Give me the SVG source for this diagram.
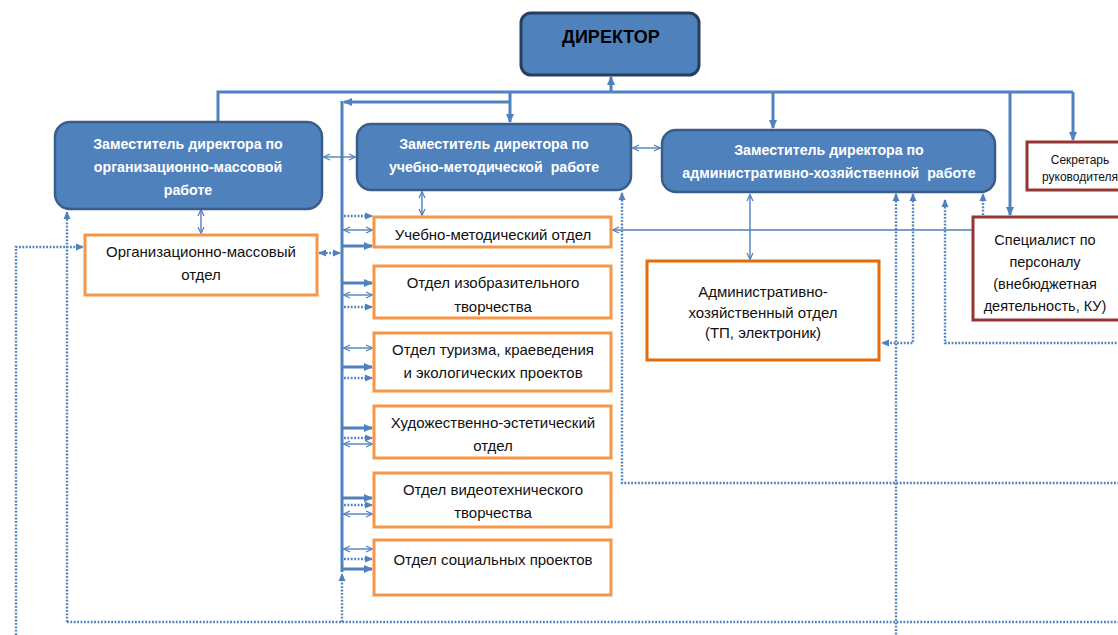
<svg xmlns="http://www.w3.org/2000/svg" width="1118" height="635" viewBox="0 0 1118 635">
<defs>
<style>
.dep{fill:#4f81bd;stroke:#385d8a;stroke-width:2.5}
.dir{fill:#4f81bd;stroke:#243f60;stroke-width:3}
.dept{fill:#fff;stroke:#f79646;stroke-width:3}
.dept2{fill:#fff;stroke:#e46c0a;stroke-width:3}
.red{fill:#fff;stroke:#943634;stroke-width:3}
.tw{font-family:"Liberation Sans",Arial,sans-serif;font-weight:bold;font-size:14.2px;fill:#fff;text-anchor:middle}
.tb{font-family:"Liberation Sans",Arial,sans-serif;font-size:15px;fill:#111;text-anchor:middle}
.ts{font-family:"Liberation Sans",Arial,sans-serif;font-size:14.5px;fill:#111;text-anchor:middle}
.tsec{font-family:"Liberation Sans",Arial,sans-serif;font-size:12px;fill:#111;text-anchor:middle}
.thick{fill:none;stroke:#4f81bd;stroke-width:3}
.thin{fill:none;stroke:#4f81bd;stroke-width:1.4}
.dot{fill:none;stroke:#4f81bd;stroke-width:2.4;stroke-dasharray:1.8 1.6}
</style>
<marker id="mT" markerUnits="userSpaceOnUse" markerWidth="10" markerHeight="10" refX="8" refY="5" orient="auto-start-reverse"><path d="M0,1 L9,5 L0,9 Z" fill="#4f81bd"/></marker>
<marker id="mS" markerUnits="userSpaceOnUse" markerWidth="9" markerHeight="9" refX="7" refY="4.5" orient="auto-start-reverse"><path d="M1,1.5 L7.5,4.5 L1,7.5" fill="none" stroke="#4f81bd" stroke-width="1.2"/></marker>
<marker id="mD" markerUnits="userSpaceOnUse" markerWidth="9" markerHeight="9" refX="7" refY="4.5" orient="auto-start-reverse"><path d="M0,1 L8,4.5 L0,8 Z" fill="#4f81bd"/></marker>
</defs>

<g id="connectors">
<path class="thick" d="M218,122 V92 H1073"/>
<path class="thick" d="M611,92 V77" marker-end="url(#mT)"/>
<path class="thick" d="M510,92 V122" marker-end="url(#mT)"/>
<path class="thick" d="M510,102 H344" marker-end="url(#mT)"/>
<path class="thick" d="M342,101 V572"/>
<path class="thick" d="M773,92 V128" marker-end="url(#mT)"/>
<path class="thick" d="M1010,92 V215" marker-end="url(#mT)"/>
<path class="thick" d="M1073,92 V140" marker-end="url(#mT)"/>
<path class="thin" d="M324,157 H355" marker-start="url(#mS)" marker-end="url(#mS)"/>
<path class="thin" d="M633,148 H660" marker-start="url(#mS)" marker-end="url(#mS)"/>
<path class="thin" d="M201,210 V233" marker-start="url(#mS)" marker-end="url(#mS)"/>
<path class="thin" d="M422,192 V215" marker-start="url(#mS)" marker-end="url(#mS)"/>
<path class="thin" d="M750,195 V259" marker-start="url(#mS)" marker-end="url(#mS)"/>
<path class="thin" d="M973,230 H613" marker-end="url(#mS)"/>

<path class="dot" d="M344,216 H372" marker-end="url(#mD)"/>
<path class="thin" d="M344,230 H372" marker-start="url(#mS)" marker-end="url(#mS)"/>
<path class="thick" d="M342,246 H372" marker-end="url(#mT)"/>

<path class="thick" d="M342,283 H372" marker-end="url(#mT)"/>
<path class="thin" d="M344,295 H372" marker-start="url(#mS)" marker-end="url(#mS)"/>
<path class="dot" d="M344,307 H372" marker-end="url(#mD)"/>

<path class="thin" d="M344,348 H372" marker-start="url(#mS)" marker-end="url(#mS)"/>
<path class="thick" d="M342,367 H372" marker-end="url(#mT)"/>
<path class="dot" d="M344,378 H372" marker-end="url(#mD)"/>

<path class="thick" d="M342,428 H372" marker-end="url(#mT)"/>
<path class="dot" d="M344,438 H372" marker-end="url(#mD)"/>
<path class="thin" d="M344,444 H372" marker-start="url(#mS)" marker-end="url(#mS)"/>

<path class="thick" d="M342,498 H372" marker-end="url(#mT)"/>
<path class="dot" d="M344,505 H372" marker-end="url(#mD)"/>
<path class="thin" d="M344,514 H372" marker-start="url(#mS)" marker-end="url(#mS)"/>

<path class="thin" d="M344,549 H372" marker-start="url(#mS)" marker-end="url(#mS)"/>
<path class="dot" d="M344,559 H372" marker-end="url(#mD)"/>
<path class="thick" d="M342,569 H372" marker-end="url(#mT)"/>

<path class="dot" d="M319,253 H340" marker-start="url(#mD)" marker-end="url(#mD)"/>
<path class="dot" d="M67,622 V212" marker-end="url(#mD)"/>
<path class="dot" d="M16,635 V247 H83" marker-end="url(#mD)"/>
<path class="dot" d="M67,622 H1118"/>
<path class="dot" d="M342,622 V574" marker-end="url(#mD)"/>
<path class="dot" d="M622,193 V483 H1118" marker-start="url(#mD)"/>
<path class="dot" d="M896,194 V635" marker-start="url(#mD)"/>
<path class="dot" d="M913,194 V343 H882" marker-start="url(#mD)" marker-end="url(#mD)"/>
<path class="dot" d="M945,200 V343 H1118" marker-start="url(#mD)"/>
<path class="dot" d="M983,215 V194" marker-end="url(#mD)"/>
</g>

<g id="director">
<rect class="dir" x="521" y="13" width="178" height="62" rx="10"/>
<text x="611" y="43" font-family="Liberation Sans, Arial, sans-serif" font-weight="bold" font-size="18" fill="#000" text-anchor="middle">ДИРЕКТОР</text>
</g>

<g id="dep-org">
<rect class="dep" x="55" y="122" width="267" height="87" rx="15"/>
<text class="tw" x="188" y="149">Заместитель директора по</text>
<text class="tw" x="188" y="172">организационно-массовой</text>
<text class="tw" x="188" y="195">работе</text>
</g>

<g id="dep-edu">
<rect class="dep" x="357" y="124" width="274" height="66" rx="14"/>
<text class="tw" x="494" y="149">Заместитель директора по</text>
<text class="tw" x="494" y="172" xml:space="preserve">учебно-методической  работе</text>
</g>

<g id="dep-ahr">
<rect class="dep" x="662" y="130" width="333" height="62" rx="14"/>
<text class="tw" x="829" y="155">Заместитель директора по</text>
<text class="tw" x="829" y="178" xml:space="preserve">административно-хозяйственной  работе</text>
</g>

<g id="secretary">
<rect class="red" x="1027" y="142" width="110" height="48"/>
<text class="tsec" x="1080" y="164">Секретарь</text>
<text class="tsec" x="1080" y="181">руководителя</text>
</g>

<g id="specialist">
<rect class="red" x="973" y="217" width="160" height="103"/>
<text class="ts" x="1045" y="245">Специалист по</text>
<text class="ts" x="1045" y="267">персоналу</text>
<text class="ts" x="1045" y="289">(внебюджетная</text>
<text class="ts" x="1045" y="311">деятельность, КУ)</text>
</g>

<g id="org-dept">
<rect class="dept" x="85" y="235" width="232" height="60"/>
<text class="tb" x="201" y="257">Организационно-массовый</text>
<text class="tb" x="201" y="280">отдел</text>
</g>

<g id="umo">
<rect class="dept" x="374" y="217" width="237" height="30"/>
<text class="tb" x="493" y="240">Учебно-методический отдел</text>
</g>

<g id="izo">
<rect class="dept" x="374" y="266" width="237" height="52"/>
<text class="tb" x="493" y="288">Отдел изобразительного</text>
<text class="tb" x="493" y="312">творчества</text>
</g>

<g id="tourism">
<rect class="dept" x="374" y="333" width="237" height="58"/>
<text class="tb" x="493" y="355">Отдел туризма, краеведения</text>
<text class="tb" x="493" y="378">и экологических проектов</text>
</g>

<g id="art">
<rect class="dept" x="374" y="406" width="237" height="52"/>
<text class="tb" x="493" y="428">Художественно-эстетический</text>
<text class="tb" x="493" y="451">отдел</text>
</g>

<g id="video">
<rect class="dept" x="374" y="473" width="237" height="54"/>
<text class="tb" x="493" y="495">Отдел видеотехнического</text>
<text class="tb" x="493" y="518">творчества</text>
</g>

<g id="social">
<rect class="dept" x="374" y="540" width="237" height="55"/>
<text class="tb" x="493" y="565">Отдел социальных проектов</text>
</g>

<g id="ahr-dept">
<rect class="dept2" x="647" y="261" width="232" height="99"/>
<text class="tb" x="763" y="297">Административно-</text>
<text class="tb" x="763" y="318">хозяйственный отдел</text>
<text class="tb" x="763" y="338">(ТП, электроник)</text>
</g>
</svg>
